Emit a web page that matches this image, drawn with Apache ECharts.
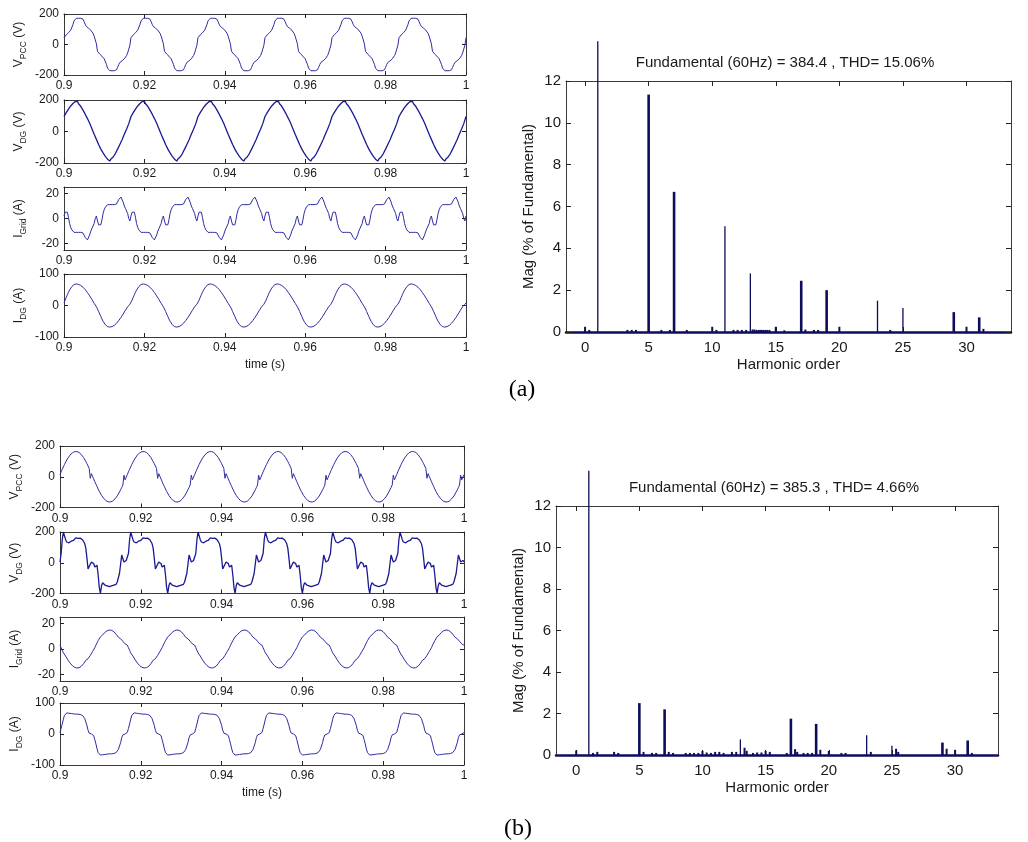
<!DOCTYPE html>
<html>
<head>
<meta charset="utf-8">
<script src="https://cdn.jsdelivr.net/npm/echarts@6/dist/echarts.min.js"></script>
<style>
html,body{margin:0;padding:0;background:#fff;}
#chart{width:1028px;height:842px;}
</style>
</head>
<body>
<div id="chart"></div>
<script>
// ---------------- DATA ----------------
// Time window and fundamental period of the waveforms (60 Hz, 6 cycles shown)
const T_START = 0.9;
const T_END = 1.0;
const PERIOD = 1 / 60;
const CYCLES = 6;
const TIME_TICKS = [0.9, 0.92, 0.94, 0.96, 0.98, 1];

// One cycle of each waveform, starting at t = 0.9 s (equally spaced samples)
// (a) case
const A_VPCC = [45, 55, 63, 70, 77, 85, 94, 106, 130, 155, 168, 172, 172, 172, 172, 172, 171, 166, 150, 132,
  118, 112, 107, 101, 94, 85, 73, 55, 30, 5, -45, -55, -63, -70, -77, -85, -94, -106, -130, -155,
  -168, -172, -172, -172, -172, -172, -171, -166, -150, -132, -118, -112, -107, -101, -94, -85, -73, -55, -30, -5];
const A_VDG = [95, 102, 120, 125, 142, 148, 162, 165, 178, 175, 190, 185, 192, 176, 174, 160, 152, 136, 130, 110,
  100, 82, 72, 52, 40, 18, 8, -18, -28, -50, -60, -82, -90, -112, -116, -136, -140, -158, -160, -176,
  -172, -188, -175, -178, -162, -160, -140, -132, -112, -104, -82, -74, -52, -42, -18, -8, 15, 26, 50, 60];
const A_IGRID = [2, 5, 6.5, 5, 1, -4, -7, -9, -10.5, -11, -11, -11, -11, -11, -11, -11, -11, -11.5, -13, -15,
  -16.5, -17, -16, -13, -10, -8, -7, -4, 0, 2, -2, -5, -6.5, -5, -1, 4, 7, 9, 10.5, 11,
  11, 11, 11, 11, 11, 11, 11, 11.5, 13, 15, 16.5, 17, 16, 13, 10, 8, 7, 4, 0, -2];
const A_IDG = [8, 17, 26, 34, 42, 49, 55, 60, 64, 66.5, 68, 68.5, 68, 67, 65.5, 63.5, 61, 58, 54.5, 50.5,
  46, 41, 36, 30.5, 25, 19, 13, 7, 1.5, -4, -11, -19, -27, -35, -43, -50, -56, -61, -64.5, -67,
  -68.5, -68.5, -68, -67, -65, -63, -60, -56.5, -52.5, -48, -43, -38, -32.5, -27, -21, -15, -9, -4, 0, 4];
// (b) case
const B_VPCC = [14, 32, 48, 64, 80, 95, 108, 121, 132, 141, 150, 156, 160, 163, 164, 164, 162, 158, 152, 144,
  135, 125, 113, 99, 85, 70, 54, -10, 20, 3, -14, -32, -48, -64, -80, -95, -108, -121, -132, -141,
  -150, -156, -160, -163, -164, -164, -162, -158, -152, -144, -135, -125, -113, -99, -85, -70, -54, 10, -20, -3];
const B_VDG = [5, 60, 150, 200, 195, 150, 135, 140, 130, 123, 140, 150, 145, 158, 162, 166, 158, 165, 160, 155,
  150, 145, 125, 95, 30, -40, -45, -10, 4, 5, -5, -28, -22, -17, -80, -160, -200, -150, -130, -140,
  -145, -135, -150, -140, -155, -145, -150, -140, -145, -135, -140, -125, -115, -70, -10, 50, 40, 5, 10, 15];
const B_IGRID = [3, 1, -1, -3, -4.5, -5.5, -7, -8.5, -10, -11, -12, -13, -13.8, -14.3, -14.6, -14.8, -14.8, -14.6, -14.2, -13.5,
  -12.5, -11.5, -10.2, -8.8, -8, -7.6, -6.5, -5, -3.5, -2, -0.5, 1, 3, 4.8, 6.5, 8, 9.5, 10.5, 11, 12,
  13, 13.8, 14.3, 14.6, 14.8, 14.8, 14.6, 14.2, 13.5, 12.6, 11.5, 10.3, 9.2, 8.5, 8, 7.2, 6, 5, 4, 3.5];
const B_IDG = [5, 18, 32, 48, 60, 66, 68, 68, 67, 66, 66, 65, 65, 65, 64, 64, 64, 63, 63, 62,
  60, 56, 50, 44, 28, 12, 3, 1, 0, -2, -5, -18, -32, -48, -60, -66, -68, -68, -67, -66,
  -66, -65, -65, -65, -64, -64, -64, -63, -63, -62, -60, -56, -50, -44, -28, -12, -3, -1, 0, 2];

// Harmonic spectra (% of fundamental)
const A_TITLE = 'Fundamental (60Hz) = 384.4 , THD= 15.06%';
const B_TITLE = 'Fundamental (60Hz) = 385.3 , THD= 4.66%';
const HARM_TICKS = [0, 5, 10, 15, 20, 25, 30];
const MAG_TICKS = [0, 2, 4, 6, 8, 10, 12];

const A_PEAK_ORDERS = [5, 7, 17, 19, 29, 31];
const A_PEAK_MAGS = [11.35, 6.7, 2.45, 2.0, 0.95, 0.7];
const A_LINE_ORDERS = [1, 11, 13, 23, 25];
const A_LINE_MAGS = [100, 5.05, 2.8, 1.5, 1.15];
const A_SMALL_ORDERS = [0, 0.33, 3.33, 3.67, 4, 6, 6.67, 8, 10, 10.33, 11.67, 12, 12.33, 12.67, 13.17, 13.33, 13.5, 13.67,
  13.83, 14, 14.17, 14.33, 14.5, 15, 15.67, 17.33, 18, 18.33, 20, 24, 30, 31.33];
const A_SMALL_MAGS = [0.25, 0.1, 0.1, 0.1, 0.1, 0.1, 0.1, 0.1, 0.25, 0.1, 0.1, 0.1, 0.1, 0.1, 0.12, 0.12, 0.1, 0.1,
  0.1, 0.1, 0.1, 0.1, 0.1, 0.25, 0.08, 0.12, 0.1, 0.1, 0.25, 0.1, 0.25, 0.15];

const B_PEAK_ORDERS = [5, 7, 17, 19, 29, 31];
const B_PEAK_MAGS = [2.5, 2.2, 1.75, 1.5, 0.6, 0.7];
const B_LINE_ORDERS = [1, 13, 23, 25];
const B_LINE_MAGS = [100, 0.75, 0.95, 0.45];
const B_SMALL_ORDERS = [0, 1.33, 1.67, 3, 3.33, 5.33, 6, 6.33, 7.33, 7.67, 8.67, 9, 9.33, 9.67, 10, 10.33, 10.67, 11,
  11.33, 11.67, 12.33, 12.67, 13.33, 13.5, 14, 14.33, 14.67, 15, 15.33, 16.67, 17.33, 17.5, 18, 18.33, 18.67,
  19.33, 20, 21, 21.33, 23.33, 25.33, 25.5, 29.33, 30, 31.33];
const B_SMALL_MAGS = [0.22, 0.1, 0.15, 0.15, 0.1, 0.15, 0.1, 0.1, 0.15, 0.1, 0.1, 0.1, 0.1, 0.1, 0.2, 0.12, 0.1, 0.15,
  0.15, 0.1, 0.15, 0.15, 0.35, 0.2, 0.1, 0.12, 0.12, 0.2, 0.15, 0.1, 0.28, 0.15, 0.1, 0.1, 0.1,
  0.25, 0.2, 0.1, 0.1, 0.15, 0.3, 0.15, 0.3, 0.25, 0.1];

// ---------------- PRESENTATION ----------------
const FONT = '"Liberation Sans", Arial, Helvetica, sans-serif';
const TXT = '#1a1a1a';
const BOX = '#3a3a3a';
const WAVE = '#2c2ca2';
const WAVE_NOISY = '#1a1a94';
const BAR = '#0d0d5c';

function tile(values) {
  const n = values.length, pts = [];
  for (let c = 0; c < CYCLES; c++)
    for (let k = 0; k < n; k++) pts.push([T_START + (c + k / n) * PERIOD, values[k]]);
  pts.push([T_END, values[0]]);
  return pts;
}

const V_AXIS = { min: -200, max: 200, ticks: [-200, 0, 200] };
const IG_AXIS = { min: -25, max: 25, ticks: [-20, 0, 20] };
const ID_AXIS = { min: -100, max: 100, ticks: [-100, 0, 100] };

const LEFT_PANELS = [
  { rect: { left: 64, top: 14, width: 402, height: 61 }, values: A_VPCC, ax: V_AXIS, nm: ['V', 'PCC', ' (V)'], noisy: false },
  { rect: { left: 64, top: 100, width: 402, height: 63 }, values: A_VDG, ax: V_AXIS, nm: ['V', 'DG', ' (V)'], noisy: true },
  { rect: { left: 64, top: 187, width: 402, height: 63 }, values: A_IGRID, ax: IG_AXIS, nm: ['I', 'Grid', ' (A)'], noisy: false },
  { rect: { left: 64, top: 274, width: 402, height: 63 }, values: A_IDG, ax: ID_AXIS, nm: ['I', 'DG', ' (A)'], noisy: false, time: true },
  { rect: { left: 60, top: 446, width: 404, height: 61.5 }, values: B_VPCC, ax: V_AXIS, nm: ['V', 'PCC', ' (V)'], noisy: false },
  { rect: { left: 60, top: 532, width: 404, height: 61.5 }, values: B_VDG, ax: V_AXIS, nm: ['V', 'DG', ' (V)'], noisy: true },
  { rect: { left: 60, top: 617, width: 404, height: 64 }, values: B_IGRID, ax: IG_AXIS, nm: ['I', 'Grid', ' (A)'], noisy: false },
  { rect: { left: 60, top: 703, width: 404, height: 62 }, values: B_IDG, ax: ID_AXIS, nm: ['I', 'DG', ' (A)'], noisy: false, time: true }
];

const RIGHT_PANELS = [
  { rect: { left: 566, top: 81, width: 445, height: 251 }, xmin: -1.5, xmax: 33.5, fundCap: 13.9,
    peak: [A_PEAK_ORDERS, A_PEAK_MAGS], line: [A_LINE_ORDERS, A_LINE_MAGS], small: [A_SMALL_ORDERS, A_SMALL_MAGS] },
  { rect: { left: 556, top: 506, width: 442, height: 249 }, xmin: -1.6, xmax: 33.4, fundCap: 13.7,
    peak: [B_PEAK_ORDERS, B_PEAK_MAGS], line: [B_LINE_ORDERS, B_LINE_MAGS], small: [B_SMALL_ORDERS, B_SMALL_MAGS] }
];

const grids = [], xAxes = [], yAxes = [], series = [];

function boxLine(color, width) { return { show: true, onZero: false, lineStyle: { color: color || BOX, width: width || 1 } }; }

LEFT_PANELS.forEach((p, i) => {
  grids.push(Object.assign({ containLabel: false }, p.rect));
  const gi = grids.length - 1;
  const xb = {
    type: 'value', gridIndex: gi, position: 'bottom', min: T_START, max: T_END, interval: 0.02,
    axisLine: boxLine(), splitLine: { show: false },
    axisTick: { show: true, inside: true, length: 4, lineStyle: { color: '#222' } },
    axisLabel: { show: true, margin: 5, color: TXT, fontFamily: FONT, fontSize: 12,
      customValues: TIME_TICKS, formatter: v => String(Math.round(v * 100) / 100) }
  };
  if (p.time) {
    xb.name = 'time (s)';
    xb.nameLocation = 'middle';
    xb.nameGap = 22;
    xb.nameTextStyle = { color: TXT, fontFamily: FONT, fontSize: 12 };
  }
  xAxes.push(xb);
  const xbi = xAxes.length - 1;
  xAxes.push({ type: 'value', gridIndex: gi, position: 'top', min: T_START, max: T_END, interval: 0.02,
    axisLine: boxLine(), splitLine: { show: false }, axisLabel: { show: false },
    axisTick: { show: true, inside: true, length: 4, lineStyle: { color: '#222' } } });
  yAxes.push({
    type: 'value', gridIndex: gi, position: 'left', min: p.ax.min, max: p.ax.max,
    axisLine: boxLine(), splitLine: { show: false },
    axisTick: { show: true, inside: true, length: 4, customValues: p.ax.ticks, lineStyle: { color: '#222' } },
    axisLabel: { show: true, margin: 5, color: TXT, fontFamily: FONT, fontSize: 12, customValues: p.ax.ticks },
    name: '{m|' + p.nm[0] + '}{s|' + p.nm[1] + '}{m|' + p.nm[2] + '}',
    nameLocation: 'middle', nameRotate: 90, nameGap: 36,
    nameTextStyle: {
      color: TXT, fontFamily: FONT, fontSize: 12,
      rich: {
        m: { fontSize: 12, fontFamily: FONT, color: TXT, lineHeight: 18, verticalAlign: 'middle' },
        s: { fontSize: 8.5, fontFamily: FONT, color: TXT, lineHeight: 10, verticalAlign: 'bottom' }
      }
    }
  });
  const ybi = yAxes.length - 1;
  yAxes.push({ type: 'value', gridIndex: gi, position: 'right', min: p.ax.min, max: p.ax.max,
    axisLine: boxLine(), splitLine: { show: false }, axisLabel: { show: false },
    axisTick: { show: true, inside: true, length: 4, customValues: p.ax.ticks, lineStyle: { color: '#222' } } });
  series.push({
    type: 'line', xAxisIndex: xbi, yAxisIndex: ybi, data: tile(p.values), showSymbol: false, symbol: 'none',
    clip: true, lineStyle: { color: p.noisy ? WAVE_NOISY : WAVE, width: p.noisy ? 1.3 : 1 }, z: 3
  });
});

function barRenderer(width, cap) {
  return function (params, api) {
    const x = api.value(0);
    const v = Math.min(api.value(1), cap);
    const base = api.coord([x, 0]);
    const top = api.coord([x, v]);
    return { type: 'rect', shape: { x: base[0] - width / 2, y: top[1], width: width, height: Math.max(base[1] - top[1], 0.5) },
      style: { fill: BAR } };
  };
}

RIGHT_PANELS.forEach((p) => {
  grids.push(Object.assign({ containLabel: false }, p.rect));
  const gi = grids.length - 1;
  xAxes.push({
    type: 'value', gridIndex: gi, position: 'bottom', min: p.xmin, max: p.xmax,
    axisLine: { show: true, onZero: false, lineStyle: { color: BAR, width: 2.5 } }, splitLine: { show: false },
    axisTick: { show: true, inside: true, length: 5, customValues: HARM_TICKS, lineStyle: { color: '#222' } },
    axisLabel: { show: true, margin: 8, color: TXT, fontFamily: FONT, fontSize: 15, customValues: HARM_TICKS },
    name: 'Harmonic order', nameLocation: 'middle', nameGap: 25,
    nameTextStyle: { color: TXT, fontFamily: FONT, fontSize: 15 }
  });
  const xbi = xAxes.length - 1;
  xAxes.push({ type: 'value', gridIndex: gi, position: 'top', min: p.xmin, max: p.xmax,
    axisLine: boxLine(), splitLine: { show: false }, axisLabel: { show: false },
    axisTick: { show: true, inside: true, length: 5, customValues: HARM_TICKS, lineStyle: { color: '#222' } } });
  yAxes.push({
    type: 'value', gridIndex: gi, position: 'left', min: 0, max: 12,
    axisLine: boxLine(), splitLine: { show: false },
    axisTick: { show: true, inside: true, length: 5, customValues: MAG_TICKS, lineStyle: { color: '#222' } },
    axisLabel: { show: true, margin: 5, color: TXT, fontFamily: FONT, fontSize: 15, customValues: MAG_TICKS },
    name: 'Mag (% of Fundamental)', nameLocation: 'middle', nameRotate: 90, nameGap: 30,
    nameTextStyle: { color: TXT, fontFamily: FONT, fontSize: 15 }
  });
  const ybi = yAxes.length - 1;
  yAxes.push({ type: 'value', gridIndex: gi, position: 'right', min: 0, max: 12,
    axisLine: boxLine(), splitLine: { show: false }, axisLabel: { show: false },
    axisTick: { show: true, inside: true, length: 5, customValues: MAG_TICKS, lineStyle: { color: '#222' } } });
  const mk = (pair) => pair[0].map((o, i) => [o, pair[1][i]]);
  series.push({ type: 'custom', xAxisIndex: xbi, yAxisIndex: ybi, clip: false, z: 4,
    data: mk(p.line), renderItem: barRenderer(1.3, p.fundCap) });
  series.push({ type: 'custom', xAxisIndex: xbi, yAxisIndex: ybi, clip: false, z: 4,
    data: mk(p.peak), renderItem: barRenderer(2.6, p.fundCap) });
  series.push({ type: 'custom', xAxisIndex: xbi, yAxisIndex: ybi, clip: false, z: 4,
    data: mk(p.small), renderItem: barRenderer(2, p.fundCap) });
});

const graphics = [
  { type: 'text', left: 785, top: 63, style: { text: A_TITLE, font: '15px ' + FONT, fill: TXT, textAlign: 'center', textVerticalAlign: 'middle' } },
  { type: 'text', left: 774, top: 488, style: { text: B_TITLE, font: '15px ' + FONT, fill: TXT, textAlign: 'center', textVerticalAlign: 'middle' } },
  { type: 'text', left: 522, top: 390, style: { text: '(a)', font: '24px "Liberation Serif", "Times New Roman", serif', fill: '#000', textAlign: 'center', textVerticalAlign: 'middle' } },
  { type: 'text', left: 518, top: 829, style: { text: '(b)', font: '24px "Liberation Serif", "Times New Roman", serif', fill: '#000', textAlign: 'center', textVerticalAlign: 'middle' } }
];
// graphic 'left/top' position the bounding box; use x/y instead for anchors
graphics.forEach(g => { g.x = g.left; g.y = g.top; delete g.left; delete g.top; });

const chart = echarts.init(document.getElementById('chart'), null, { renderer: 'canvas' });
chart.setOption({
  animation: false,
  backgroundColor: '#ffffff',
  grid: grids,
  xAxis: xAxes,
  yAxis: yAxes,
  series: series,
  graphic: graphics
});
</script>
</body>
</html>
